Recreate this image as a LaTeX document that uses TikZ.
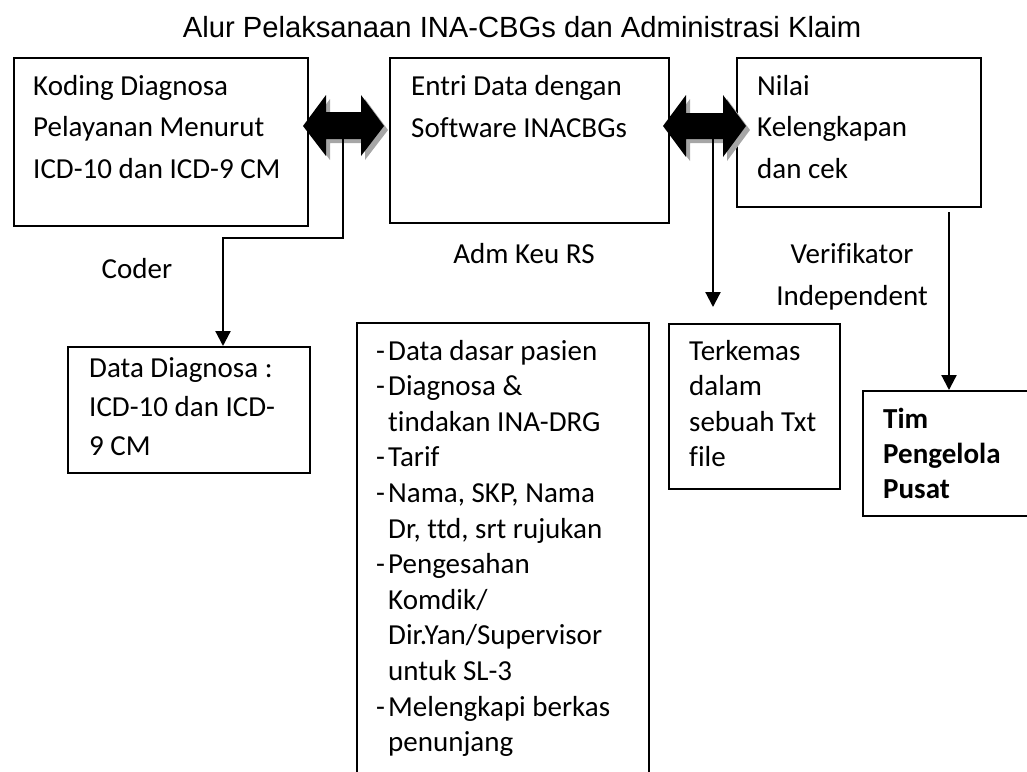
\documentclass[tikz,border=0pt]{standalone}
\usepackage{fontspec}
\setmainfont[Ligatures=CommonOff]{Carlito}
\newfontfamily\titlefont{Liberation Sans}
\usetikzlibrary{arrows.meta}
\newcommand\mlines[2]{\vtop{\baselineskip=#1\relax\lineskiplimit=-1000pt\relax\halign{##\hfil\cr#2\crcr}}}
\newcommand\mlinesc[2]{\vtop{\baselineskip=#1\relax\lineskiplimit=-1000pt\relax\halign{\hfil##\hfil\cr#2\crcr}}}
\newcommand\dsh{\hbox to 12pt{-\hfil}}
\newcommand\ind{\hskip12pt}
\def\arrowA{(303,126) -- (326,95) -- (326,112) -- (361,112) -- (361,95) -- (384,126) -- (361,156) -- (361,139) -- (326,139) -- (326,156) -- cycle}
\def\arrowB{(663,126) -- (686,95) -- (686,113) -- (723,113) -- (723,95) -- (746,126) -- (723,157) -- (723,139) -- (686,139) -- (686,157) -- cycle}
\tikzset{
  box/.style={draw, line width=1.6pt, inner sep=0pt, anchor=north west},
  txt/.style={anchor=base west, inner sep=0pt, font=\fontsize{29}{35}\selectfont},
  lbl/.style={anchor=base, inner sep=0pt, font=\fontsize{29}{35}\selectfont},
  conn/.style={line width=2.2pt},
  tip/.style={-{Triangle[length=15pt,width=15pt]}},
  shadowc/.style={fill=black!35},
}
\begin{document}
\begin{tikzpicture}[x=1pt,y=-1pt]
\useasboundingbox (0,0) rectangle (1027,771);
% title
\node[anchor=base, inner sep=0pt, font=\titlefont\fontsize{29.2}{35}\selectfont] (title) at (522,37) {Alur Pelaksanaan INA-CBGs dan Administrasi Klaim};
% top boxes
\node[box, minimum width=294pt, minimum height=168pt] (b1) at (13,57) {};
\node[box, minimum width=279pt, minimum height=165pt] (b2) at (389,57) {};
\node[box, minimum width=244pt, minimum height=149pt] (b3) at (736,57) {};
\node[txt] (t1) at (33,95) {\mlines{41.5pt}{Koding Diagnosa\cr Pelayanan Menurut\cr ICD-10 dan ICD-9 CM}};
\node[txt] (t2) at (411,95) {\mlines{42pt}{Entri Data dengan\cr Software INACBGs}};
\node[txt] (t3) at (757,95) {\mlines{41.5pt}{Nilai\cr Kelengkapan\cr dan cek}};
% double arrows
\fill[shadowc, shift={(4,4)}] \arrowA;
\fill[black] \arrowA;
\fill[shadowc, shift={(4,4)}] \arrowB;
\fill[black] \arrowB;
\coordinate (a1) at (343,138);
\coordinate (a2) at (713,138);
% bottom boxes
\node[box, minimum width=242pt, minimum height=126pt] (b4) at (67,346) {};
\node[txt] (t4) at (89,377) {\mlines{39pt}{Data Diagnosa :\cr ICD-10 dan ICD-\cr 9 CM}};
\node[box, minimum width=292pt, minimum height=480pt] (b5) at (356,322) {};
\node[txt] (t5) at (376,360) {\mlines{35.6pt}{\dsh Data dasar pasien\cr \dsh Diagnosa \&\cr \ind tindakan INA-DRG\cr \dsh Tarif\cr \dsh Nama, SKP, Nama\cr \ind Dr, ttd, srt rujukan\cr \dsh Pengesahan\cr \ind Komdik/\cr \ind Dir.Yan/Supervisor\cr \ind untuk SL-3\cr \dsh Melengkapi berkas\cr \ind penunjang}};
\node[box, minimum width=171pt, minimum height=165pt] (b6) at (668,323) {};
\node[txt] (t6) at (689,360) {\mlines{35.6pt}{Terkemas\cr dalam\cr sebuah Txt\cr file}};
\node[box, minimum width=180pt, minimum height=125pt] (b7) at (862,390) {};
\node[txt, font=\fontsize{29}{35}\selectfont\bfseries] (t7) at (883,428) {\mlines{35pt}{Tim\cr Pengelola\cr Pusat}};
% labels
\node[lbl] (coder) at (137,278) {Coder};
\node[lbl] (adm) at (524,263) {Adm Keu RS};
\node[lbl] (verif) at (852,263) {\mlinesc{42pt}{Verifikator\cr Independent}};
% connectors
\coordinate (c1) at (223,238);
\draw[conn, tip] (a1) |- (c1) -- (c1 |- b4.north);
\coordinate (e2) at (713,307);
\draw[conn, tip] (a2) -- (e2);
\coordinate (v1) at (949,212);
\draw[conn, tip] (v1) -- (v1 |- b7.north);
\end{tikzpicture}
\end{document}
